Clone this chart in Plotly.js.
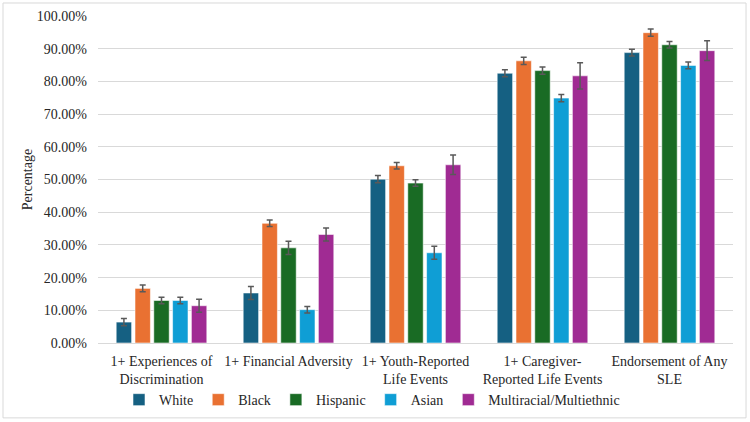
<!DOCTYPE html>
<html>
<head>
<meta charset="utf-8">
<script src="https://cdn.plot.ly/plotly-3.0.1.min.js"></script>
<style>html,body{margin:0;padding:0;background:#fff}#chart{width:750px;height:422px}</style>
</head>
<body>
<div id="chart"></div>
<script>
const categories = [
  "1+ Experiences of<br>Discrimination",
  "1+ Financial Adversity",
  "1+ Youth-Reported<br>Life Events",
  "1+ Caregiver-<br>Reported Life Events",
  "Endorsement of Any<br>SLE"
];
const seriesNames = ["White", "Black", "Hispanic", "Asian", "Multiracial/Multiethnic"];
const white    = [6.4, 15.3, 50.1, 82.5, 88.8];
const black    = [16.7, 36.6, 54.2, 86.3, 94.9];
const hispanic = [13.0, 29.1, 48.9, 83.3, 91.2];
const asian    = [13.0, 10.2, 27.6, 74.9, 84.9];
const multi    = [11.4, 33.2, 54.5, 81.7, 89.4];
const whiteErr    = [1.1, 2.0, 1.1, 1.1, 1.0];
const blackErr    = [1.0, 1.0, 1.0, 1.1, 1.1];
const hispanicErr = [1.0, 2.0, 1.0, 1.1, 1.0];
const asianErr    = [1.0, 1.0, 2.0, 1.1, 1.0];
const multiErr    = [2.0, 2.0, 3.0, 4.0, 3.0];
const yTicks = [0, 10, 20, 30, 40, 50, 60, 70, 80, 90, 100];

const colors = ["#156082", "#E97132", "#196B24", "#0F9ED5", "#A02B93"];
const values = [white, black, hispanic, asian, multi];
const errs = [whiteErr, blackErr, hispanicErr, asianErr, multiErr];

const traces = seriesNames.map((name, i) => ({
  type: "bar",
  name: name,
  x: categories,
  y: values[i],
  marker: { color: colors[i], line: { color: "rgba(255,255,255,0.55)", width: 1 } },
  error_y: { type: "data", array: errs[i], visible: true, color: "#595959", thickness: 1.5, width: 3 },
  hoverinfo: "y+name"
}));

const FAM = "Liberation Serif";
const font = { family: FAM, color: "#262626", size: 14 };

const layout = {
  width: 750, height: 422,
  margin: { l: 98, r: 17, t: 16, b: 79, pad: 0 },
  paper_bgcolor: "#fff", plot_bgcolor: "#fff",
  font: font,
  barmode: "group",
  bargap: 0.26,
  bargroupgap: 0.18,
  showlegend: true,
  legend: {
    orientation: "h",
    xref: "container", yref: "container",
    x: 0.496, xanchor: "center", y: 0.052, yanchor: "middle",
    bgcolor: "rgba(0,0,0,0)",
    font: { family: FAM, size: 14, color: "#262626" },
    itemwidth: 30, tracegroupgap: 0
  },
  xaxis: {
    type: "category",
    tickfont: { family: FAM, size: 14, color: "#262626" },
    showline: false, ticks: "", showgrid: false, zeroline: false,
    ticklabelstandoff: 8,
    automargin: false
  },
  yaxis: {
    range: [0, 100],
    tickvals: yTicks,
    ticktext: yTicks.map(v => v.toFixed(2) + "%"),
    tickfont: { family: FAM, size: 14, color: "#262626" },
    showgrid: true, gridcolor: "#D9D9D9", gridwidth: 1,
    zeroline: true, zerolinecolor: "#D9D9D9", zerolinewidth: 1,
    showline: false, ticks: "", ticklabelstandoff: 10,
    title: { text: "Percentage", font: { family: FAM, size: 14, color: "#262626" }, standoff: 0 },
    automargin: false
  },
  shapes: [{
    type: "rect", xref: "paper", yref: "paper",
    x0: -0.1496, x1: 1.0205, y0: -0.229, y1: 1.0398,
    line: { color: "#D9D9D9", width: 1 }, fillcolor: "rgba(0,0,0,0)", layer: "below"
  }]
};

Plotly.newPlot("chart", traces, layout, { displayModeBar: false, staticPlot: true });
</script>
</body>
</html>
